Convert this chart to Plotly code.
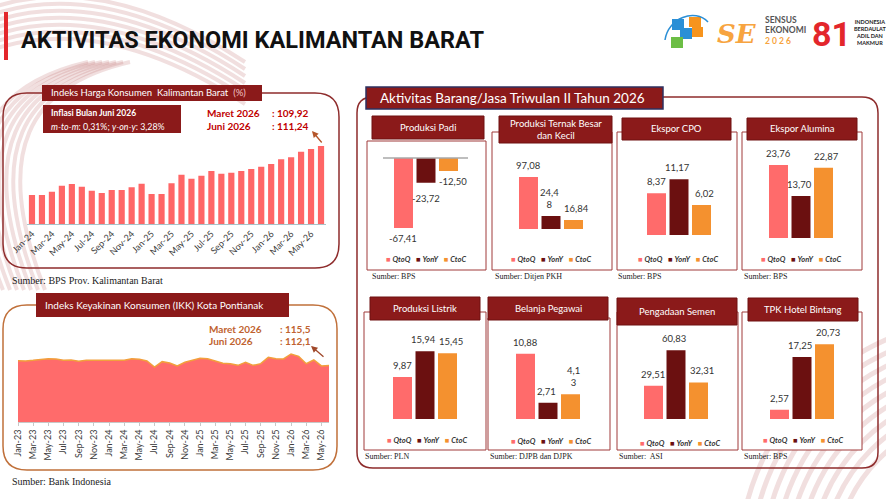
import plotly.graph_objects as go

W, H = 886, 499

# ---------------- data ----------------
mon = ["Jan", "Feb", "Mar", "Apr", "May", "Jun", "Jul", "Aug", "Sep", "Oct", "Nov", "Dec"]
ihk_months = [f"{m}-{y}" for y in ("24", "25", "26") for m in mon][:30]
ihk_values = [105.54, 105.54, 105.93, 106.63, 106.82, 106.51, 106.05, 105.77, 106.12, 106.12,
              106.43, 106.86, 105.66, 105.66, 106.90, 107.91, 107.44, 107.79, 108.33, 108.02,
              108.14, 108.33, 108.57, 108.84, 109.15, 109.69, 109.92, 110.58, 110.89, 111.24]
ihk_ticks = ihk_months[::2]

ikk_months = [f"{m}-{y}" for y in ("23", "24", "25", "26") for m in mon][:42]
ikk_values = [121.4, 120.8, 122.1, 124.1, 125.4, 124.8, 122.1, 122.8, 120.1, 122.1, 122.1, 122.1,
              122.8, 121.4, 122.1, 125.4, 124.1, 120.8, 108.9, 119.5, 116.8, 110.9, 118.2, 122.1,
              126.1, 125.4, 120.1, 116.2, 115.5, 112.2, 118.2, 112.2, 115.5, 128.1, 125.4, 124.8,
              134.7, 130.0, 115.5, 122.8, 111.0, 112.1]
ikk_ticks = ikk_months[::2]

categories = ["QtoQ", "YonY", "CtoC"]
padi = [-67.41, -23.72, -12.50]
ternak = [97.08, 24.48, 16.84]
cpo = [8.37, 11.17, 6.02]
alumina = [23.76, 13.70, 22.87]
listrik = [9.87, 15.94, 15.45]
belanja = [10.88, 2.71, 4.13]
semen = [29.51, 60.83, 32.31]
tpk = [2.57, 17.25, 20.73]

# ---------------- styles ----------------
FONT = "Lato, 'Open Sans', sans-serif"
SERIF = "'Liberation Serif', 'DejaVu Serif', serif"
DARKRED = "#8B1A1A"
BORDER = "#8E2C2C"
C_Q, C_Y, C_C = "#FF6B6B", "#6B1010", "#F4912F"
BAR_COLORS = [C_Q, C_Y, C_C]

fig = go.Figure()


def X(x):
    return x / W


def Y(y):
    return 1 - y / H


shapes, annotations = [], []


def rect(x0, y0, x1, y1, fill, line=None, lw=0):
    shapes.append(dict(type="rect", xref="paper", yref="paper", x0=X(x0), x1=X(x1),
                       y0=Y(y1), y1=Y(y0), fillcolor=fill,
                       line=dict(color=line or fill, width=lw), layer="below"))


def pp(x, y):
    return f"{X(x):.5f},{Y(y):.5f}"


def rrect(x0, y0, x1, y1, r, color, lw, fill="rgba(0,0,0,0)"):
    path = (f"M {pp(x0 + r, y0)} L {pp(x1 - r, y0)} Q {pp(x1, y0)} {pp(x1, y0 + r)} "
            f"L {pp(x1, y1 - r)} Q {pp(x1, y1)} {pp(x1 - r, y1)} L {pp(x0 + r, y1)} "
            f"Q {pp(x0, y1)} {pp(x0, y1 - r)} L {pp(x0, y0 + r)} Q {pp(x0, y0)} {pp(x0 + r, y0)} Z")
    shapes.append(dict(type="path", xref="paper", yref="paper", path=path,
                       line=dict(color=color, width=lw), fillcolor=fill, layer="below"))


def curve(pts, color, lw):
    (a, b, c, d) = pts
    path = f"M {pp(*a)} C {pp(*b)} {pp(*c)} {pp(*d)}"
    shapes.append(dict(type="path", xref="paper", yref="paper", path=path,
                       line=dict(color=color, width=lw), layer="below"))


def text(x, y, s, size=10, color="#000", family=FONT, xanchor="left", yanchor="middle", **kw):
    annotations.append(dict(xref="paper", yref="paper", x=X(x), y=Y(y), text=s, showarrow=False,
                            xanchor=xanchor, yanchor=yanchor,
                            font=dict(size=size, color=color, family=family), **kw))


# ---------------- background decoration ----------------
STRIPE = "rgba(185,95,95,0.2)"
for k in range(7):
    curve(((-20, 12 + 7 * k), (60, -20 + 7 * k), (150, 0 + 7 * k), (245, 62 + 7 * k)), STRIPE, 4)
for k in range(7):
    curve(((130 - 7 * k, 62), (30 - 7 * k, 85), (-10 - 7 * k, 150), (45 - 7 * k, 290)), STRIPE, 4)
for k in range(9):
    r = 150 + 12 * k
    cx, cy = 985, 565
    shapes.append(dict(type="circle", xref="paper", yref="paper", x0=X(cx - r), x1=X(cx + r),
                       y0=Y(cy + r), y1=Y(cy - r), line=dict(color=STRIPE, width=5), layer="below"))

# ---------------- header ----------------
rect(4, 12, 8, 60, "#E3262B")
text(19, 40, "<b>AKTIVITAS EKONOMI KALIMANTAN BARAT</b>", size=23.5, color="#111",
     family="Roboto, sans-serif")

# BPS logo (approximation)
for (x0, y0, x1, y1, c) in [(672, 19, 684, 30, "#2B8FD6"), (680, 28, 692, 39, "#2B8FD6"),
                            (689, 17, 701, 27, "#F7941D"), (692, 27, 703, 37, "#F7941D"),
                            (671, 37, 683, 48, "#6CBE45")]:
    rect(x0, y0, x1, y1, c)
curve(((665, 40), (668, 18), (695, 8), (708, 22)), "#2B8FD6", 1.5)
# SE2026 logo (approximation)
text(737, 34, "<b><i>SE</i></b>", size=26, color="#F7A440", xanchor="center",
     family="'DejaVu Serif', serif")
text(763, 20, "<b>SENSUS</b>", size=8.5, color="#555")
text(763, 30, "<b>EKONOMI</b>", size=8.5, color="#555")
text(763, 41, "<b>2 0 2 6</b>", size=8.5, color="#F7A440")
text(831, 34, "<b>81</b>", size=34, color="#E3262B", xanchor="center",
     family="Roboto, sans-serif")
text(852, 33, "<b>INDONESIA<br>BERDAULAT<br>ADIL DAN<br>MAKMUR</b>", size=5.5, color="#222")

# ---------------- IHK panel ----------------
rrect(3, 93, 339, 268, 24, BORDER, 1.5)
rect(42, 85, 262, 101, DARKRED)
text(49, 93, "Indeks Harga Konsumen  Kalimantan Barat  <span style='color:#F2C6C6'>(%)</span>",
     size=9.5, color="white")
rect(43, 105, 181, 133, DARKRED)
text(49, 113, "<b>Inflasi Bulan Juni 2026</b>", size=8.5, color="white")
text(49, 126, "<i>m-to-m</i>: 0,31%; <i>y-on-y</i>: 3,28%", size=8.8, color="white")
text(205, 113, "<b>Maret 2026</b>", size=10, color="#C00000")
text(270, 113, "<b>: 109,92</b>", size=10, color="#C00000")
text(205, 126, "<b>Juni 2026</b>", size=10, color="#C00000")
text(270, 126, "<b>: 111,24</b>", size=10, color="#C00000")
annotations.append(dict(xref="paper", yref="paper", x=X(312), y=Y(131), ax=11, ay=13, text="",
                        showarrow=True, arrowhead=2, arrowsize=1, arrowwidth=1.3,
                        arrowcolor="#B5562A"))
text(10, 280, "Sumber: BPS Prov. Kalimantan Barat", size=10, color="#222", family=SERIF)

# ---------------- IKK panel ----------------
rrect(3, 305, 337, 470, 24, "#C0703A", 1.5)
rect(36, 293, 289, 317, DARKRED)
text(43, 305, "Indeks Keyakinan Konsumen (IKK) Kota Pontianak", size=10, color="white")
OR = "#C0622F"
text(207, 329, "<b>Maret 2026</b>", size=10, color=OR)
text(278, 329, "<b>: 115,5</b>", size=10, color=OR)
text(207, 341, "<b>Juni 2026</b>", size=10, color=OR)
text(278, 341, "<b>: 112,1</b>", size=10, color=OR)
annotations.append(dict(xref="paper", yref="paper", x=X(311), y=Y(346), ax=14, ay=12, text="",
                        showarrow=True, arrowhead=2, arrowsize=1, arrowwidth=1.3,
                        arrowcolor="#A0482A"))
text(10, 481, "Sumber: Bank Indonesia", size=10, color="#222", family=SERIF)

# ---------------- right big panel ----------------
rrect(357, 97, 878, 468, 16, BORDER, 1.5)
rect(366, 87, 663, 109, DARKRED, "#2E3160", 1.5)
text(378, 98, "Aktivitas Barang/Jasa Triwulan II Tahun 2026", size=13.5, color="white")

panel_specs = [
    dict(title="Produksi Padi", vals=padi, src="Sumber: BPS", hdr=(372, 116, 484, 139),
         box=(367, 141, 486, 270), qL=394, base=158, s=1.04, T=150, B=240, leg=(426, 259), sp=(370, 276)),
    dict(title="Produksi Ternak Besar<br>dan Kecil", vals=ternak, src="Sumber: Ditjen PKH",
         hdr=(499, 116, 612, 143), box=(492, 132, 612, 270), qL=519, base=229, s=0.536, T=150, B=232,
         leg=(551, 259), sp=(493, 276)),
    dict(title="Ekspor CPO", vals=cpo, src="Sumber: BPS", hdr=(622, 118, 731, 140),
         box=(617, 132, 737, 270), qL=647, base=235, s=5.0, T=150, B=238, leg=(678, 259), sp=(616, 276)),
    dict(title="Ekspor Alumina", vals=alumina, src="Sumber: BPS", hdr=(747, 118, 857, 140),
         box=(742, 132, 862, 270), qL=769, base=238, s=3.07, T=150, B=241, leg=(801, 259), sp=(742, 276)),
    dict(title="Produksi Listrik", vals=listrik, src="Sumber: PLN", hdr=(370, 297, 480, 320),
         box=(364, 312, 486, 450), qL=393, base=419, s=4.25, T=330, B=422, leg=(427, 440), sp=(363, 456)),
    dict(title="Belanja Pegawai", vals=belanja, src="Sumber: DJPB dan DJPK", hdr=(488, 297, 608, 320),
         box=(488, 318, 610, 450), qL=516, base=419, s=6.0, T=330, B=422, leg=(551, 441), sp=(488, 456)),
    dict(title="Pengadaan Semen", vals=semen, src="Sumber:  ASI", hdr=(617, 298, 737, 325),
         box=(617, 312, 738, 450), qL=644, base=419, s=1.13, T=330, B=422, leg=(680, 443), sp=(617, 456)),
    dict(title="TPK Hotel Bintang", vals=tpk, src="Sumber: BPS", hdr=(748, 298, 858, 321),
         box=(742, 312, 862, 450), qL=770, base=419, s=3.6, T=330, B=422, leg=(803, 440), sp=(742, 456)),
]
wrap = {(1, 1): 4, (5, 2): 3}
neg_xshift = [0, 0, 4]
neg_yshift = [-3, -8, -3]
pos_shift = [0, -2, 3]

layout_axes = {}


def fmt(v):
    return f"{v:.2f}".replace(".", ",")


for i, sp in enumerate(panel_specs):
    n = i + 3
    bx = sp["box"]
    rect(bx[0], bx[1], bx[2], bx[3], "white", "#A03A3A", 1)
    h = sp["hdr"]
    rect(h[0], h[1], h[2], h[3], DARKRED, "#6E1010", 1)
    text((h[0] + h[2]) / 2, (h[1] + h[3]) / 2, sp["title"], size=9.5, color="white", xanchor="center")
    text(sp["sp"][0], sp["sp"][1], sp["src"], size=8, color="#222", family=SERIF)
    leg = "   ".join(f"<span style='color:{c}'>■</span> <b><i>{cat}</i></b>"
                     for c, cat in zip(BAR_COLORS, categories))
    text(sp["leg"][0], sp["leg"][1], leg, size=7.5, color="#333", xanchor="center")

    slot = 64 / (3 - 0.156)
    x0 = sp["qL"] - slot * 0.156 / 2
    x1 = x0 + 3 * slot
    hi = (sp["base"] - sp["T"]) / sp["s"]
    lo = -(sp["B"] - sp["base"]) / sp["s"]
    layout_axes[f"xaxis{n}"] = dict(domain=[X(x0), X(x1)], range=[-0.5, 2.5], visible=False,
                                    anchor=f"y{n}", fixedrange=True, automargin=False)
    layout_axes[f"yaxis{n}"] = dict(domain=[Y(sp["B"]), Y(sp["T"])], range=[lo, hi], visible=False,
                                    anchor=f"x{n}", fixedrange=True, automargin=False)
    fig.add_trace(go.Bar(x=categories, y=sp["vals"], marker=dict(color=BAR_COLORS, line=dict(width=0)),
                         width=0.844, xaxis=f"x{n}", yaxis=f"y{n}", showlegend=False,
                         hoverinfo="x+y"))
    for j, (cat, v) in enumerate(zip(categories, sp["vals"])):
        s = fmt(v)
        if (i, j) in wrap:
            s = s[:wrap[(i, j)]] + "<br>" + s[wrap[(i, j)]:]
        if v < 0:
            annotations.append(dict(xref=f"x{n}", yref=f"y{n}", x=cat, y=v, text=s, showarrow=False,
                                    yanchor="top", yshift=neg_yshift[j], xshift=neg_xshift[j],
                                    font=dict(size=9.5, color="#333", family=FONT)))
        else:
            annotations.append(dict(xref=f"x{n}", yref=f"y{n}", x=cat, y=v, text=s, showarrow=False,
                                    yanchor="bottom", yshift=4, xshift=pos_shift[j],
                                    font=dict(size=9.5, color="#333", family=FONT)))
    if min(sp["vals"]) < 0:
        shapes.append(dict(type="line", xref="paper", yref=f"y{n}", x0=X(383), x1=X(468), y0=0, y1=0,
                           line=dict(color="#A8A8A8", width=1.5), layer="above"))

# ---------------- IHK bars ----------------
fig.add_trace(go.Bar(x=ihk_months, y=ihk_values, marker=dict(color="#FF6666", line=dict(width=0)),
                     width=0.62, xaxis="x", yaxis="y", showlegend=False))
ihk_lo = 102.17
ihk_scale = 8.6
layout_axes["xaxis"] = dict(domain=[X(27), X(326)], range=[-0.5, 29.5], type="category",
                            tickmode="array", tickvals=ihk_ticks, ticktext=ihk_ticks, tickangle=-45,
                            tickfont=dict(size=9, color="#404040", family=FONT), showline=True,
                            linecolor="#A9C2C8", linewidth=1, ticks="", showgrid=False, anchor="y",
                            fixedrange=True, automargin=False)
layout_axes["yaxis"] = dict(domain=[Y(224), Y(110)], range=[ihk_lo, ihk_lo + (224 - 110) / ihk_scale],
                            visible=False, anchor="x", fixedrange=True, automargin=False)

# ---------------- IKK area ----------------
fig.add_trace(go.Scatter(x=ikk_months, y=ikk_values, mode="lines", fill="tozeroy",
                         fillcolor="#FF6B6B", line=dict(color="#F2A03C", width=1.5),
                         xaxis="x2", yaxis="y2", showlegend=False))
ikk_scale = 0.505
layout_axes["xaxis2"] = dict(domain=[X(18), X(329)], range=[0, 41], type="category",
                             tickmode="array", tickvals=ikk_ticks, ticktext=ikk_ticks, tickangle=-90,
                             tickfont=dict(size=9, color="#404040", family=FONT), showline=True,
                             linecolor="#C8C8C8", ticks="outside", ticklen=3, tickcolor="#C8C8C8",
                             showgrid=False, anchor="y2", fixedrange=True, automargin=False)
layout_axes["yaxis2"] = dict(domain=[Y(422), Y(310)], range=[0, (422 - 310) / ikk_scale],
                             visible=False, anchor="x2", fixedrange=True, automargin=False)

fig.update_layout(
    width=W, height=H, margin=dict(l=0, r=0, t=0, b=0, pad=0, autoexpand=False),
    paper_bgcolor="white", plot_bgcolor="rgba(0,0,0,0)",
    shapes=shapes, annotations=annotations, showlegend=False,
    font=dict(family=FONT),
    **layout_axes,
)
fig.write_html("out.html", config={"displayModeBar": False},
               post_script="document.body.style.margin='0';document.body.style.overflow='hidden';")
